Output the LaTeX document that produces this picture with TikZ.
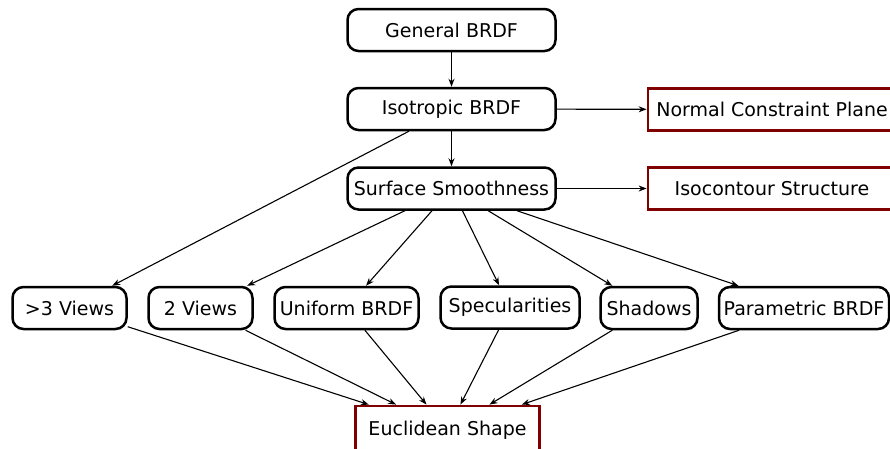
\documentclass[tikz,border=0pt]{standalone}
\usepackage{fontspec}
\setmainfont{DejaVu Sans}
\usetikzlibrary{arrows.meta}
\definecolor{darkred}{RGB}{128,0,0}

\begin{document}
\begin{tikzpicture}[x=1pt,y=-1pt,
    rbox/.style={draw, line width=2.5pt, rounded corners=11pt, inner sep=0pt,
      minimum height=42pt, font=\fontsize{19}{22}\selectfont},
    redbox/.style={draw=darkred, line width=2.8pt, inner sep=0pt,
      minimum height=42pt, font=\fontsize{19}{22}\selectfont},
    conn/.style={-{Stealth[length=8pt,width=6pt]}, line width=1.1pt}]
    \useasboundingbox (0,0) rectangle (890,448);

    % top chain
    \node[rbox, minimum width=208] (general) at (451.5,30) {General BRDF};
    \node[rbox, minimum width=208] (iso) at (451.5,109) {Isotropic BRDF};
    \node[rbox, minimum width=208] (smooth) at (451.5,188.5) {Surface Smoothness};
    \node[redbox, minimum width=248] (ncp) at (772,109.5) {Normal Constraint Plane};
    \node[redbox, minimum width=248] (contour) at (772,188.5) {Isocontour Structure};

    % bottom row
    \node[rbox, minimum width=114] (views3) at (69.5,308) {>3 Views};
    \node[rbox, minimum width=104] (views2) at (200.5,308) {2 Views};
    \node[rbox, minimum width=144] (uniform) at (346.5,308) {Uniform BRDF};
    \node[rbox, minimum width=139] (spec) at (510,307.5) {Specularities};
    \node[rbox, minimum width=97] (shadows) at (649,308) {Shadows};
    \node[rbox, minimum width=170] (param) at (804,308) {Parametric BRDF};
    \node[redbox, minimum width=184, minimum height=48] (euclid) at (447.5,430) {Euclidean Shape};

    \draw[conn] (general) -- (iso);
    \draw[conn] (iso) -- (smooth);
    \draw[conn] (iso) -- (ncp);
    \draw[conn] (smooth) -- (contour);
    \draw[conn] (iso) -- (views3);

    \foreach \n in {views2,uniform,spec,shadows,param}
    \draw[conn] (smooth) -- (\n);

    \foreach \n in {views3,views2,uniform,spec,shadows,param}
    \draw[conn] (\n) -- (euclid);
\end{tikzpicture}
\end{document}
